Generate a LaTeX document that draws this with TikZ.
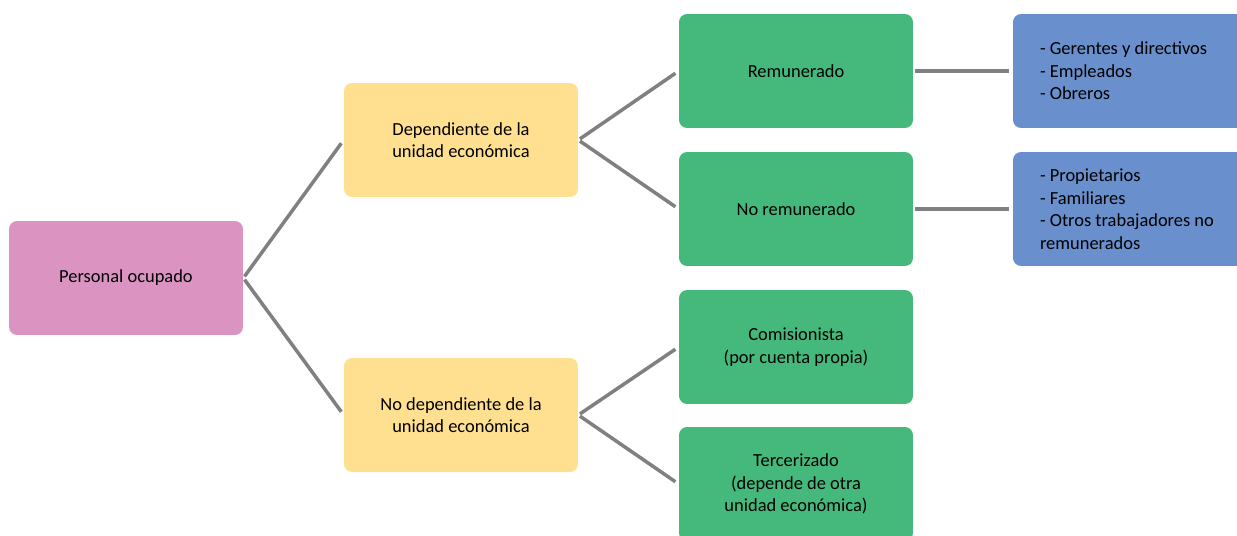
\documentclass[tikz,border=0pt]{standalone}
\usepackage{fontspec}
\setmainfont{Carlito}
\usetikzlibrary{positioning}
\definecolor{rosa}{RGB}{219,148,193}
\definecolor{amarillo}{RGB}{254,224,144}
\definecolor{verde}{RGB}{68,185,123}
\definecolor{azul}{RGB}{105,143,204}
\definecolor{gris}{RGB}{128,128,128}
\begin{document}
\begin{tikzpicture}[x=0.02cm, y=-0.02cm,
    base/.style={rectangle, rounded corners=0.16cm, minimum width=4.68cm, minimum height=2.28cm, align=center, inner sep=0pt, font=\fontsize{10.5}{12.8}\selectfont},
    root/.style={base, fill=rosa},
    level1/.style={base, fill=amarillo},
    level2/.style={base, fill=verde},
    detail/.style={base, fill=azul, align=flush left, text width=3.6cm},
    link/.style={draw=gris, line width=0.07cm, shorten <=0.04cm, shorten >=0.08cm}
]
\useasboundingbox (0,0) rectangle (1237,535);

% Root
\node[root] (ocupado) at (126,278) {Personal ocupado};

% First level
\node[level1] (dep) at (461,140) {Dependiente de la\\unidad económica};
\node[level1] (nodep) at (461,415) {No dependiente de la\\unidad económica};

% Second level
\node[level2] (rem) at (796,71) {Remunerado};
\node[level2] (norem) at (796,209) {No remunerado};
\node[level2] (comis) at (796,347) {Comisionista\\(por cuenta propia)};
\node[level2] (terc) at (796,484) {Tercerizado\\(depende de otra\\unidad económica)};

% Details
\node[detail] (remlist) at (1130,71) {- Gerentes y directivos\\- Empleados\\- Obreros};
\node[detail] (noremlist) at (1130,209) {- Propietarios\\- Familiares\\- Otros trabajadores no\\remunerados};

% Connectors
\draw[link] (ocupado.east) -- (dep.west);
\draw[link] (ocupado.east) -- (nodep.west);
\draw[link] (dep.east) -- (rem.west);
\draw[link] (dep.east) -- (norem.west);
\draw[link] (nodep.east) -- (comis.west);
\draw[link] (nodep.east) -- (terc.west);
\draw[link] (rem.east) -- (remlist.west);
\draw[link] (norem.east) -- (noremlist.west);

\end{tikzpicture}
\end{document}
